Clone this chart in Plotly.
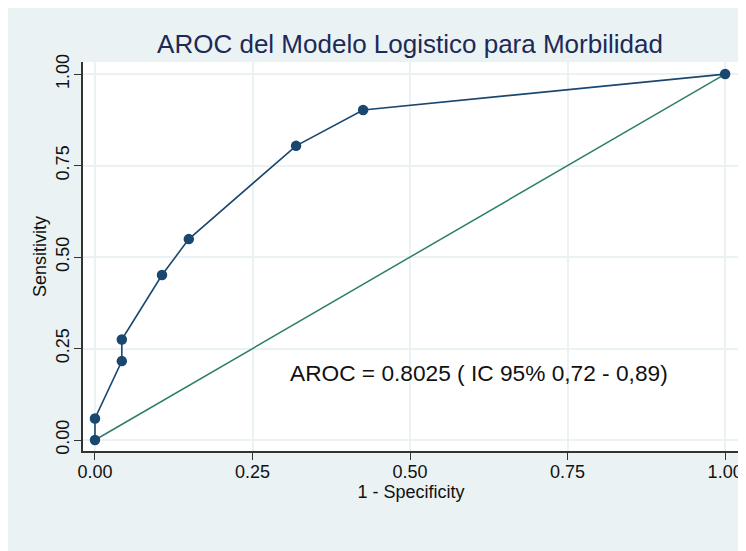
import plotly.graph_objects as go

# ROC curve points (1 - specificity, sensitivity)
fpr = [0.0, 0.0, 0.0426, 0.0426, 0.1064, 0.1489, 0.3191, 0.4255, 1.0]
tpr = [0.0, 0.0588, 0.2157, 0.2745, 0.4510, 0.5490, 0.8039, 0.9020, 1.0]
ref_x = [0.0, 1.0]
ref_y = [0.0, 1.0]
tick_vals = [0.0, 0.25, 0.5, 0.75, 1.0]
tick_text = ["0.00", "0.25", "0.50", "0.75", "1.00"]
title_text = "AROC del Modelo Logistico para Morbilidad"
note_text = "AROC = 0.8025 ( IC 95% 0,72 - 0,89)"

W, H = 746, 551
L, T = 75, 54
PW, PH = 656, 389
R = W - L - PW
B = H - T - PH
FONT = "Liberation Sans, Arial, Helvetica, sans-serif"
BG = "#EAF2F3"
NAVY = "#1a476f"
GREEN = "#2f7d68"

fig = go.Figure()
fig.add_trace(go.Scatter(x=ref_x, y=ref_y, mode="lines",
                         line=dict(color=GREEN, width=1.5), hoverinfo="skip", showlegend=False))
fig.add_trace(go.Scatter(x=fpr, y=tpr, mode="lines+markers",
                         line=dict(color=NAVY, width=1.6),
                         marker=dict(color=NAVY, size=10.5), showlegend=False))

fig.add_annotation(x=0.307, y=0.183, xref="x", yref="y", text=note_text,
                   showarrow=False, xanchor="left", yanchor="middle",
                   font=dict(family=FONT, size=22.7, color="#111111"))

axis_common = dict(
    tickvals=tick_vals, ticktext=tick_text, showgrid=True, gridcolor=BG, gridwidth=1.5,
    zeroline=False, showline=True, linecolor="#333333", linewidth=1.5,
    ticks="outside", ticklen=7, tickwidth=1.3, tickcolor="#333333",
    tickfont=dict(family=FONT, size=18, color="#111111"),
)
fig.update_xaxes(range=[-0.019, 1.022], ticklabelstandoff=-3,
                 title=dict(text="1 - Specificity", standoff=4,
                            font=dict(family=FONT, size=18, color="#111111")), **axis_common)
fig.update_yaxes(range=[-0.030, 1.033], tickangle=-90, ticklabelstandoff=-2,
                 title=dict(text="Sensitivity", standoff=2,
                            font=dict(family=FONT, size=18, color="#111111")), **axis_common)

fig.update_layout(
    width=W, height=H, margin=dict(l=L, r=R, t=T, b=B, autoexpand=False),
    paper_bgcolor=BG, plot_bgcolor="white",
    title=dict(text=title_text, x=402 / W, xref="container", xanchor="center",
               y=1 - 36 / H, yref="container", yanchor="middle",
               font=dict(family=FONT, size=26, color="#1c2a58")),
    showlegend=False,
)
fig.write_html("out.html")
